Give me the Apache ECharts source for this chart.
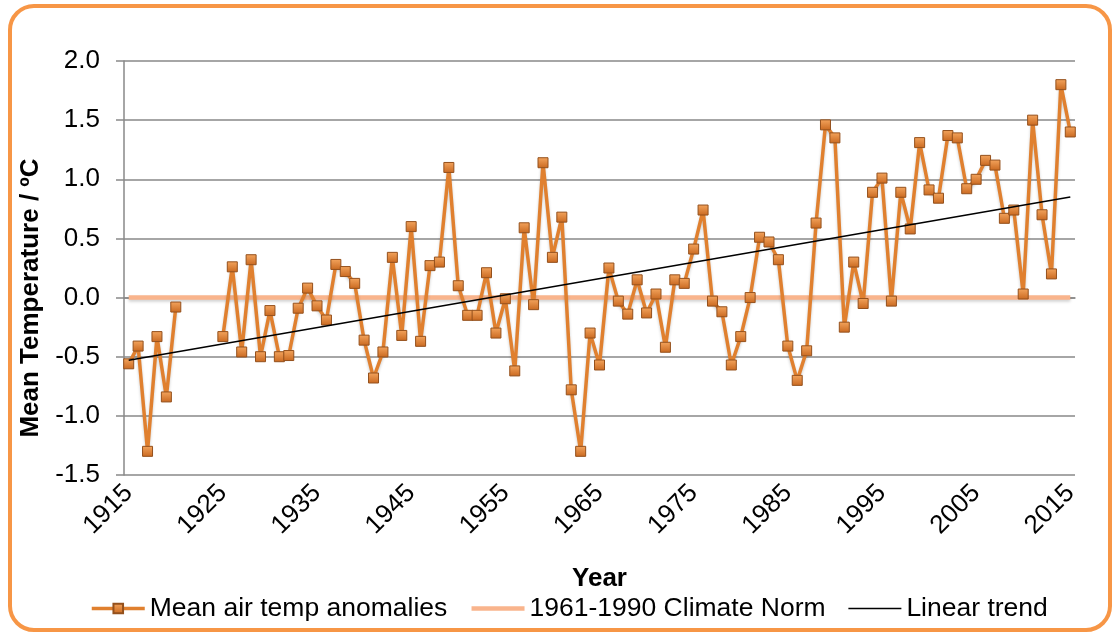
<!DOCTYPE html>
<html>
<head>
<meta charset="utf-8">
<script src="https://cdn.jsdelivr.net/npm/echarts@6/dist/echarts.min.js"></script>
<style>
  html, body { margin: 0; padding: 0; background: #fff; }
  #chart { width: 1113px; height: 637px; }
</style>
</head>
<body>
<div id="chart"></div>
<script>
const years = [
  '1915', '1916', '1917', '1918', '1919', '1920', '1921', '1922', '1923', '1924',
  '1925', '1926', '1927', '1928', '1929', '1930', '1931', '1932', '1933', '1934',
  '1935', '1936', '1937', '1938', '1939', '1940', '1941', '1942', '1943', '1944',
  '1945', '1946', '1947', '1948', '1949', '1950', '1951', '1952', '1953', '1954',
  '1955', '1956', '1957', '1958', '1959', '1960', '1961', '1962', '1963', '1964',
  '1965', '1966', '1967', '1968', '1969', '1970', '1971', '1972', '1973', '1974',
  '1975', '1976', '1977', '1978', '1979', '1980', '1981', '1982', '1983', '1984',
  '1985', '1986', '1987', '1988', '1989', '1990', '1991', '1992', '1993', '1994',
  '1995', '1996', '1997', '1998', '1999', '2000', '2001', '2002', '2003', '2004',
  '2005', '2006', '2007', '2008', '2009', '2010', '2011', '2012', '2013', '2014',
  '2015',
]

// mean air temp anomalies (°C), no record for 1921-1924
const anomalies = [
  -0.56, -0.41, -1.30, -0.33, -0.84, -0.08, null, null, null, null,
  -0.33, 0.26, -0.46, 0.32, -0.50, -0.11, -0.50, -0.49, -0.09, 0.08,
  -0.07, -0.19, 0.28, 0.22, 0.12, -0.36, -0.68, -0.46, 0.34, -0.32,
  0.60, -0.37, 0.27, 0.30, 1.10, 0.10, -0.15, -0.15, 0.21, -0.30,
  -0.01, -0.62, 0.59, -0.06, 1.14, 0.34, 0.68, -0.78, -1.30, -0.30,
  -0.57, 0.25, -0.03, -0.14, 0.15, -0.13, 0.03, -0.42, 0.15, 0.12,
  0.41, 0.74, -0.03, -0.12, -0.57, -0.33, 0.00, 0.51, 0.47, 0.32,
  -0.41, -0.70, -0.45, 0.63, 1.46, 1.35, -0.25, 0.30, -0.05, 0.89,
  1.01, -0.03, 0.89, 0.58, 1.31, 0.91, 0.84, 1.37, 1.35, 0.92,
  1.00, 1.16, 1.12, 0.67, 0.74, 0.03, 1.50, 0.70, 0.20, 1.80,
  1.40,
]

// 1961-1990 climate norm (start, end)
const climateNorm = [0.0, 0.0]
// linear trend read at 1915 and 2015
const trendEnds = [-0.53, 0.85]

const yTicks = { min: -1.5, max: 2.0, step: 0.5 }

const font = '"Liberation Sans", Arial, sans-serif'
const axisGray = '#898989'
const lineOrange = '#E0802F'
const normColor = '#F9B48C'

const markerFill = new echarts.graphic.LinearGradient(0, 0, 0, 1, [
  { offset: 0, color: '#F4A55E' },
  { offset: 1, color: '#C9681F' },
])

const chart = echarts.init(document.getElementById('chart'))

chart.setOption({
  backgroundColor: '#ffffff',
  animation: false,
  textStyle: { fontFamily: font },
  graphic: [
    {
      type: 'rect',
      silent: true,
      z: -10,
      shape: { x: 10, y: 6, width: 1100, height: 624, r: 24 },
      style: { fill: 'none', stroke: '#F79646', lineWidth: 4 },
    },
  ],
  grid: { left: 124, right: 38, top: 61, bottom: 162 },
  legend: {
    bottom: 10,
    left: 85,
    itemWidth: 53,
    itemHeight: 12,
    itemGap: 22,
    textStyle: { color: '#000', fontSize: 26.5, fontFamily: font },
    data: [
      {
        name: 'Mean air temp anomalies',
        lineStyle: { width: 3.5, color: lineOrange },
      },
      {
        name: '1961-1990 Climate Norm',
        lineStyle: { width: 4.5, color: normColor },
        itemStyle: { opacity: 0 },
      },
      {
        name: 'Linear trend',
        lineStyle: { width: 1.6, color: '#000' },
        itemStyle: { opacity: 0 },
      },
    ],
  },
  xAxis: {
    type: 'category',
    data: years,
    boundaryGap: true,
    name: 'Year',
    nameLocation: 'middle',
    nameGap: 91,
    nameTextStyle: { color: '#000', fontSize: 26, fontWeight: 'bold', fontFamily: font },
    axisLine: { lineStyle: { color: axisGray, width: 1.5 } },
    axisTick: { interval: 9, length: 8, alignWithLabel: false, lineStyle: { color: axisGray, width: 1.5 } },
    axisLabel: {
      interval: 9,
      rotate: 45,
      margin: 14,
      color: '#000',
      fontSize: 26,
      fontFamily: font,
    },
    splitLine: { show: false },
  },
  yAxis: {
    type: 'value',
    min: yTicks.min,
    max: yTicks.max,
    interval: yTicks.step,
    name: 'Mean Temperature / ºC',
    nameLocation: 'middle',
    nameGap: 72,
    nameTextStyle: {
      color: '#000',
      fontSize: 26,
      fontWeight: 'bold',
      fontFamily: font,
      padding: [0, 60, 0, 0],
    },
    axisLine: { show: true, lineStyle: { color: axisGray, width: 1.5 } },
    axisTick: { show: true, length: 8, lineStyle: { color: axisGray, width: 1.5 } },
    axisLabel: {
      margin: 24,
      color: '#000',
      fontSize: 26,
      fontFamily: font,
      formatter: (v) => v.toFixed(1),
    },
    splitLine: { lineStyle: { color: axisGray, width: 1.5 } },
  },
  series: [
    {
      name: '1961-1990 Climate Norm',
      type: 'line',
      z: 2,
      symbol: 'none',
      data: [[years[0], climateNorm[0]], [years[years.length - 1], climateNorm[1]]],
      lineStyle: {
        color: normColor,
        width: 4.5,
        shadowColor: 'rgba(0,0,0,0.18)',
        shadowBlur: 3,
        shadowOffsetY: 2,
      },
      itemStyle: { color: normColor },
    },
    {
      name: 'Mean air temp anomalies',
      type: 'line',
      z: 3,
      data: anomalies,
      connectNulls: false,
      showAllSymbol: true,
      symbol: 'rect',
      symbolSize: 10,
      lineStyle: {
        color: lineOrange,
        width: 3.5,
        shadowColor: 'rgba(0,0,0,0.2)',
        shadowBlur: 3,
        shadowOffsetY: 2,
      },
      itemStyle: {
        color: markerFill,
        borderColor: '#94501C',
        borderWidth: 1,
      },
    },
    {
      name: 'Linear trend',
      type: 'line',
      z: 4,
      symbol: 'none',
      data: [[years[0], trendEnds[0]], [years[years.length - 1], trendEnds[1]]],
      lineStyle: { color: '#000', width: 1.6 },
      itemStyle: { color: '#000' },
    },
  ],
})
</script>
</body>
</html>
